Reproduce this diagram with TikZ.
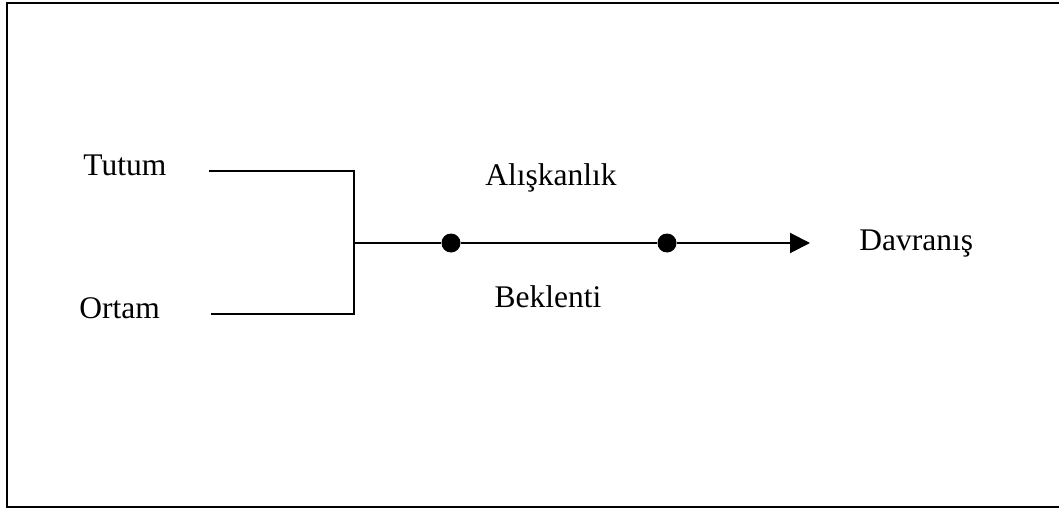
\documentclass[tikz,border=0pt]{standalone}
\usepackage{fontspec}
\setmainfont{Liberation Serif}
\usetikzlibrary{arrows.meta}

\begin{document}
\begin{tikzpicture}[x=0.5pt,y=-0.5pt,
label/.style={
  inner sep=0pt, anchor=base west,
  font=\fontsize{15.75}{19}\selectfont
},
dot/.style={
  circle, fill=black, inner sep=0pt,
  minimum size=9.5pt
},
link/.style={line width=1pt}]
\useasboundingbox (0,0) rectangle (1059,508);
\draw[line width=1pt] (1059,3) -- (7,3) -- (7,507) -- (1059,507);
% inputs
\node (tutum) [label] at (83,175) {Tutum};
\node (ortam) [label] at (79,318) {Ortam};
\coordinate (t1) at (209,171);
\coordinate (o1) at (211,314);
\coordinate (join) at (354,243);
% main line
\node (d1) [dot] at (451,243) {};
\node (d2) [dot] at (667,243) {};
\coordinate (tip) at (810,243);
\node (alis) [label, anchor=base] at (551,185) {Alışkanlık};
\node (bek) [label, anchor=base] at (548,307) {Beklenti};
\node (davr) [label] at (859,250) {Davranış};
\draw[link] (t1) -| (join);
\draw[link] (o1) -| (join);
\draw[link] (join) -- (d1) -- (d2);
\draw[link, -{Triangle[length=10pt,width=10pt]}] (d2) -- (tip);
\end{tikzpicture}
\end{document}
